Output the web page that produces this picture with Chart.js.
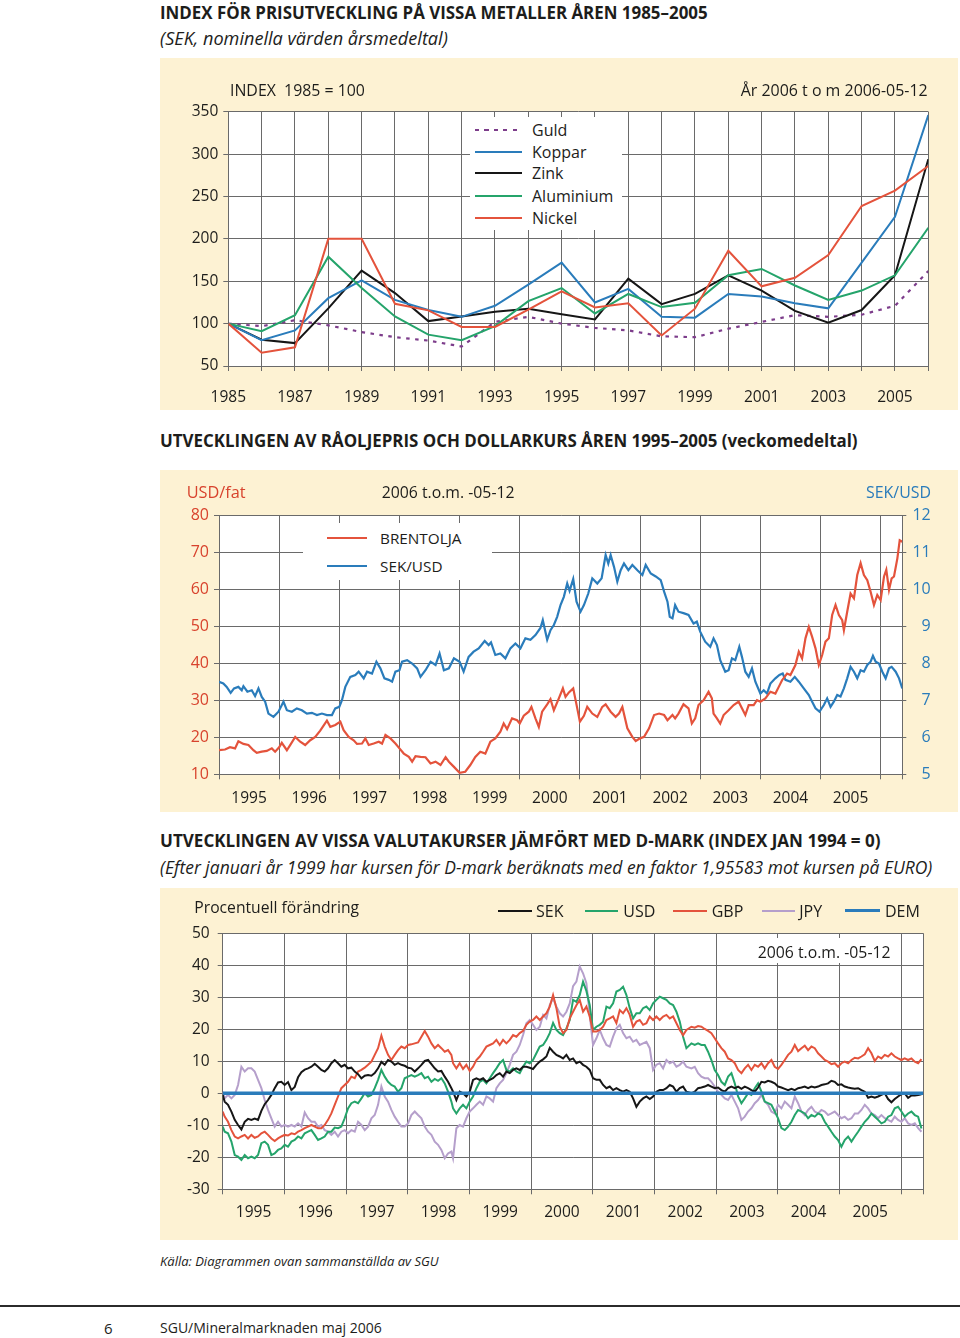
<!DOCTYPE html>
<html lang="sv">
<head>
<meta charset="utf-8">
<title>SGU Mineralmarknaden</title>
<script src="https://cdn.jsdelivr.net/npm/chart.js@4.4.1/dist/chart.umd.min.js"></script>
<style>
html,body{margin:0;padding:0;background:#fff}
body{position:relative;width:960px;height:1338px;overflow:hidden;font-family:"Open Sans",Lato,sans-serif;color:#1d1d1b}
.t{position:absolute;white-space:pre;line-height:24px;height:24px;font-size:16px;z-index:10}
.panel{position:absolute;left:160px;width:798px;background:#FDF2D3}
.panel canvas{position:absolute;left:0;top:0}
.box{position:absolute;background:#fff;z-index:5}
.ln{position:absolute;z-index:8}
</style>
</head>
<body>
<div class="panel" style="top:58px;height:352px"><canvas id="c1" width="798" height="352"></canvas></div>
<div class="panel" style="top:470px;height:342px"><canvas id="c2" width="798" height="342"></canvas></div>
<div class="panel" style="top:888px;height:352px"><canvas id="c3" width="798" height="352"></canvas></div>
<div class="box" style="left:470px;top:117px;width:152px;height:113px"></div>
<div class="box" style="left:303px;top:523px;width:189px;height:57px"></div>
<div class="box" style="left:750px;top:938px;width:146px;height:25px"></div>
<div class="ln" style="left:0;top:1305px;width:960px;height:2px;background:#2b2b2b"></div>
<script>
// ---------- Chart 1: metal price index (yearly) ----------
const metalYears = [1985,1986,1987,1988,1989,1990,1991,1992,1993,1994,1995,1996,1997,1998,1999,2000,2001,2002,2003,2004,2005,2006];
const metalTicks = [50,100,150,200,250,300,350];
const guld      = [100,97,104,98,90,84,80,73,102,108,100,95,92,85,84,94,102,110,108,110.5,121,162];
const koppar    = [100,80.5,92,130,151,128,116,108,121,146,172,125,141,108,107,135,132,124,118,172,226,346];
const zink      = [100,81,77,118,162.5,136,103,108.5,114,117.5,111,105,153,123,135,157,139,115,101,116,157,294];
const aluminium = [100,91,110,179,142,108.5,87,80.5,97,126.5,142,112,135,119.5,124.6,157,164.5,145,128,139,157,213];
const nickel    = [100,65.6,72,200,200,123.4,115.6,96,96,116.4,138,119,124,86,117.6,186,144,154,181,238.7,257,286];

// ---------- Chart 2: Brent oil (USD/fat) and SEK/USD, weekly ----------
const END = 2006.36; // 2006-05-12
const yearLabels = [1995,1996,1997,1998,1999,2000,2001,2002,2003,2004,2005];
const gridYears = [1995,1996,1997,1998,1999,2000,2001,2002,2003,2004,2005,2006];
const brentTicks = [10,20,30,40,50,60,70,80];
const sekTicks = [5,6,7,8,9,10,11,12];
const brentYears = [1995.000,1995.100,1995.183,1995.267,1995.322,1995.406,1995.489,1995.572,1995.628,1995.711,1995.794,1995.878,1995.933,
1996.000,1996.044,1996.128,1996.183,1996.267,1996.350,1996.433,1996.517,1996.600,1996.683,1996.794,1996.850,1996.933,
1997.017,1997.072,1997.156,1997.239,1997.294,1997.378,1997.433,1997.489,1997.572,1997.656,1997.711,1997.767,1997.850,1997.933,
1998.000,1998.072,1998.156,1998.211,1998.267,1998.350,1998.433,1998.517,1998.600,1998.683,1998.767,1998.822,1998.906,1999.000,
1999.094,1999.178,1999.261,1999.344,1999.428,1999.511,1999.594,1999.678,1999.733,1999.789,1999.872,1999.956,
2000.000,2000.067,2000.150,2000.194,2000.261,2000.317,2000.372,2000.456,2000.511,2000.567,2000.650,2000.717,2000.761,2000.817,2000.889,2000.956,
2001.000,2001.067,2001.122,2001.206,2001.289,2001.372,2001.428,2001.511,2001.594,2001.650,2001.706,2001.789,2001.872,2001.928,
2002.000,2002.067,2002.150,2002.233,2002.317,2002.400,2002.456,2002.539,
2002.583,2002.639,2002.722,2002.806,2002.861,2002.917,2002.972,
2003.056,2003.139,2003.194,2003.222,2003.278,2003.333,2003.389,2003.472,2003.556,2003.639,2003.694,2003.750,2003.806,2003.889,2003.944,
2004.000,2004.083,2004.167,2004.250,2004.306,2004.361,2004.444,2004.500,2004.583,2004.639,2004.694,2004.750,2004.806,2004.861,2004.917,2004.972,
2005.028,2005.083,2005.139,2005.194,2005.250,2005.306,2005.361,2005.389,2005.444,2005.500,2005.556,2005.611,2005.667,2005.722,2005.778,2005.833,2005.889,2005.944,
2006.000,2006.056,2006.094,2006.139,2006.183,2006.222,2006.278,2006.317,2006.360];
const brentUsd = [16.5,16.7,17.3,17.0,18.9,18.2,17.9,16.5,15.8,16.1,16.3,17.0,16.1,
17.3,18.5,16.5,17.9,20.1,18.8,17.9,19.2,20.1,21.8,24.5,22.8,23.3,
24.2,21.9,20.1,19.2,18.2,18.3,19.7,17.9,18.3,18.8,18.3,20.6,19.7,18.3,
17.0,15.6,14.7,13.4,14.9,14.7,14.6,12.9,13.4,12.5,14.6,13.4,12.0,10.4,
10.7,12.5,14.7,16.1,15.6,18.8,19.7,21.5,23.7,22.2,25.1,24.6,
23.7,25.8,26.9,28.2,25.1,22.8,26.9,28.9,30.3,27.3,30.5,33.2,30.9,32.1,33.2,27.8,
24.2,25.8,28.2,26.4,25.5,28.2,28.9,26.9,25.5,26.4,28.2,22.4,20.1,19.0,
19.7,20.1,22.4,26.0,26.4,26.0,24.6,26.0,
25.1,26.4,28.9,27.8,23.7,25.1,28.7,
30.0,32.3,30.5,26.4,25.1,23.7,26.0,27.3,28.7,29.6,27.8,26.0,28.7,28.7,30.0,
29.6,30.5,32.3,31.8,33.6,35.4,37.2,36.8,39.5,43.1,41.3,46.7,49.8,47.1,44.0,39.5,
42.2,45.8,46.7,53.0,55.7,53.0,51.6,48.9,53.9,58.8,57.5,63.8,67.0,63.8,62.4,59.3,55.7,58.4,
57.0,63.4,65.2,59.8,62.9,63.4,68.3,73.2,72.8];
const sekUsdYears = [1995.000,1995.072,1995.128,1995.194,1995.250,1995.322,1995.378,1995.406,1995.472,1995.544,1995.600,1995.656,1995.711,1995.767,1995.822,1995.906,1995.989,
1996.072,1996.128,1996.211,1996.294,1996.378,1996.461,1996.544,1996.628,1996.711,1996.794,1996.878,1996.933,
1997.000,1997.044,1997.100,1997.183,1997.267,1997.322,1997.406,1997.461,1997.544,1997.617,1997.683,1997.750,1997.822,1997.878,1997.933,
1998.000,1998.044,1998.128,1998.211,1998.294,1998.350,1998.433,1998.517,1998.600,1998.667,1998.739,1998.822,1998.906,1999.000,
1999.067,1999.150,1999.233,1999.317,1999.417,1999.483,1999.522,1999.594,1999.678,1999.761,1999.844,1999.928,
2000.011,2000.094,2000.178,2000.261,2000.344,2000.383,2000.456,2000.511,2000.567,2000.622,2000.678,2000.733,2000.789,2000.828,2000.889,2000.944,
2001.011,2001.067,2001.139,2001.206,2001.289,2001.361,2001.428,2001.472,2001.511,2001.567,2001.622,2001.678,2001.733,2001.806,2001.872,2001.956,
2002.039,2002.094,2002.178,2002.261,2002.344,2002.400,2002.456,2002.494,2002.539,
2002.583,2002.639,2002.722,2002.806,2002.889,2002.944,
2003.000,2003.083,2003.167,2003.222,2003.278,2003.333,2003.417,2003.472,2003.528,2003.583,2003.650,2003.694,2003.750,2003.806,2003.861,2003.917,
2004.000,2004.056,2004.111,2004.167,2004.250,2004.317,2004.372,2004.417,2004.500,2004.572,2004.639,2004.722,2004.806,2004.861,2004.917,2004.983,
2005.056,2005.111,2005.167,2005.222,2005.278,2005.333,2005.389,2005.444,2005.500,2005.556,2005.611,2005.667,2005.722,2005.778,2005.833,2005.872,2005.917,2005.972,
2006.028,2006.083,2006.139,2006.183,2006.250,2006.306,2006.360];
const sekUsd = [7.50,7.45,7.36,7.20,7.32,7.36,7.27,7.38,7.23,7.27,7.11,7.32,7.09,6.96,6.64,6.55,6.69,
6.96,6.73,6.69,6.78,6.73,6.64,6.66,6.60,6.64,6.60,6.60,6.78,
6.82,7.00,7.36,7.63,7.68,7.77,7.59,7.77,7.72,8.04,7.86,7.59,7.55,7.50,7.77,
7.81,8.04,8.08,7.99,7.86,7.63,7.81,8.04,7.95,8.26,7.81,7.86,8.13,8.04,
7.77,8.17,8.31,8.40,8.60,8.49,8.56,8.22,8.26,8.13,8.40,8.53,
8.40,8.67,8.63,8.76,8.95,9.16,8.63,8.89,9.03,9.25,9.57,9.79,10.15,9.95,10.27,9.66,
9.39,9.57,9.88,10.29,10.15,10.29,10.92,10.69,10.92,10.60,10.20,10.51,10.69,10.51,10.65,10.51,
10.38,10.65,10.42,10.34,10.24,9.93,9.66,9.25,9.21,
9.57,9.39,9.35,9.30,9.07,9.12,
8.85,8.58,8.44,8.67,8.49,8.08,7.77,7.81,8.13,8.08,8.44,8.17,7.77,7.63,7.86,7.50,
7.18,7.27,7.18,7.45,7.59,7.68,7.72,7.55,7.50,7.63,7.50,7.32,7.14,6.96,6.78,6.69,
6.87,7.05,6.82,6.96,7.14,7.10,7.32,7.59,7.90,7.77,7.59,7.81,7.77,7.95,8.04,8.20,8.04,7.99,
7.77,7.59,7.86,7.90,7.77,7.59,7.32];

// ---------- Chart 3: currencies vs D-mark (index jan 1994 = 0) ----------
const pctTicks = [-30,-20,-10,0,10,20,30,40,50];
const fxYears = [1995.000,1995.032,1995.086,1995.141,1995.195,1995.249,1995.303,1995.357,1995.411,1995.465,
1995.519,1995.573,1995.627,1995.681,1995.735,1995.789,1995.843,1995.897,1995.951,1996.005,
1996.059,1996.114,1996.168,1996.222,1996.276,1996.330,1996.384,1996.438,1996.492,1996.546,
1996.600,1996.654,1996.708,1996.762,1996.816,1996.870,1996.924,1996.978,1997.032,1997.086,
1997.141,1997.195,1997.249,1997.303,1997.357,1997.411,1997.465,1997.519,1997.573,1997.627,
1997.681,1997.735,1997.789,1997.843,1997.897,1997.951,1998.005,1998.059,1998.114,1998.168,
1998.222,1998.276,1998.330,1998.384,1998.438,1998.492,1998.546,1998.600,1998.654,1998.708,
1998.735,1998.789,1998.843,1998.897,1998.951,1999.005,1999.059,1999.114,1999.168,1999.222,
1999.276,1999.330,1999.384,1999.438,1999.492,1999.546,1999.600,1999.654,1999.708,1999.762,
1999.816,1999.870,1999.924,1999.978,2000.032,2000.086,2000.141,2000.195,2000.249,2000.303,
2000.357,2000.411,2000.465,2000.519,2000.573,2000.627,2000.681,2000.735,2000.789,2000.843,
2000.897,2000.951,2001.005,2001.059,2001.114,2001.168,2001.222,2001.276,2001.330,2001.384,
2001.438,2001.492,2001.546,2001.600,2001.654,2001.708,2001.762,2001.816,2001.870,2001.924,
2001.978,2002.032,2002.086,2002.141,2002.195,2002.249,2002.303,2002.357,2002.411,2002.465,
2002.519,
2002.600,2002.654,2002.708,2002.762,2002.816,2002.870,2002.924,2002.978,2003.032,2003.086,
2003.141,2003.195,2003.249,2003.303,2003.357,2003.411,2003.465,2003.519,2003.573,2003.627,
2003.681,2003.735,2003.789,2003.843,2003.897,2003.951,2004.005,2004.059,2004.114,2004.168,
2004.222,2004.276,2004.330,2004.384,2004.438,2004.492,2004.546,2004.600,2004.654,2004.708,
2004.762,2004.816,2004.870,2004.924,2004.978,2005.032,2005.086,2005.141,2005.195,2005.249,
2005.303,2005.357,2005.411,2005.465,2005.519,2005.573,2005.627,2005.681,2005.735,2005.789,
2005.843,2005.897,2005.951,2006.005,2006.059,2006.114,2006.168,2006.222,2006.276,2006.330];
const fxSEK = [-0.5,-2.6,-3.6,-5.7,-8.3,-9.9,-11.3,-8.9,-8.0,-8.3,
-7.9,-8.3,-5.5,-3.4,-2.1,-0.5,1.6,3.4,3.6,2.6,
3.5,1.0,2.0,5.0,6.6,7.4,7.8,8.3,9.2,8.3,
7.3,6.8,7.8,9.4,10.4,9.4,8.3,8.9,7.8,8.0,
6.8,6.0,4.7,5.5,5.7,5.5,6.3,7.8,9.8,8.9,
10.4,9.9,8.9,9.4,8.9,8.6,8.0,7.8,6.8,7.8,
8.9,10.1,10.4,9.1,7.8,6.8,7.0,5.2,3.6,1.6,
0.5,-2.1,0.5,0.0,-1.0,0.5,4.2,4.7,4.2,4.7,
3.6,4.2,4.7,5.7,6.3,5.2,6.8,6.3,7.3,7.8,
7.3,8.3,8.3,8.0,7.6,8.9,9.9,10.6,11.5,14.2,
13.0,12.0,11.5,10.9,12.0,10.4,10.9,9.4,9.9,8.9,
8.3,7.3,4.7,4.2,4.2,2.6,1.6,2.1,1.0,1.6,
1.0,0.5,1.0,0.5,-1.6,-4.2,-2.6,-1.6,-1.0,-1.8,
-1.0,0.5,1.0,1.0,1.6,2.6,2.1,0.5,1.6,2.1,
0.5,
0.0,0.5,1.6,1.8,2.1,2.6,2.1,1.6,1.8,1.0,
0.5,1.6,2.1,1.6,2.1,1.4,2.1,1.6,1.0,0.5,
1.8,3.6,3.4,3.9,3.6,3.1,2.1,1.8,1.4,1.0,
1.4,1.0,1.6,1.8,2.1,1.6,2.1,1.8,2.1,2.6,
2.8,3.1,3.9,3.6,2.6,2.8,2.1,1.8,1.6,1.4,
1.6,1.0,0.5,-1.4,-1.0,-1.4,-1.0,-0.5,0.0,-1.8,
-2.8,-1.8,-1.0,-0.3,0.0,-1.4,-0.7,-0.7,-0.5,-0.3];
const fxUSD = [-10.4,-12.0,-12.5,-15.1,-19.3,-19.8,-20.8,-19.3,-20.3,-19.8,
-20.3,-19.3,-15.6,-15.1,-16.1,-19.3,-18.8,-17.7,-17.2,-16.1,
-16.7,-15.1,-14.6,-13.5,-14.1,-12.5,-12.0,-11.5,-13.0,-14.6,
-14.1,-13.5,-12.0,-12.0,-10.7,-10.9,-10.4,-7.8,-4.7,-3.1,
-2.6,-3.1,-1.6,0.0,-1.0,-0.5,1.6,4.2,7.3,5.2,
3.6,2.6,2.1,0.5,1.6,4.7,5.2,5.7,5.2,5.7,
6.3,4.7,5.2,3.6,4.5,3.9,4.7,3.1,0.5,-2.6,
-4.7,-6.3,-4.7,-3.6,-4.7,-2.6,-1.0,1.6,3.6,4.2,
3.1,4.7,6.3,7.8,9.4,10.4,7.3,6.8,7.8,6.8,
6.3,8.3,9.9,9.4,10.4,12.5,14.6,15.1,16.7,18.8,
22.0,19.8,18.8,18.2,20.3,22.9,29.2,28.6,30.7,34.9,
32.0,27.6,19.8,20.8,21.4,22.4,27.1,26.6,28.1,31.8,
32.3,33.3,30.7,26.6,23.4,25.0,25.0,26.6,27.1,26.0,
28.1,29.2,30.2,29.7,29.2,28.1,27.6,25.5,22.4,17.7,
14.1,
15.6,15.1,15.6,15.1,15.1,13.0,10.4,7.3,5.7,3.6,
2.6,5.2,6.3,3.1,-1.0,-3.1,-1.6,0.0,-0.5,1.6,
3.1,0.5,-2.6,-3.1,-3.6,-5.7,-7.8,-10.9,-11.5,-10.4,
-8.9,-6.8,-5.2,-5.7,-6.3,-7.8,-6.8,-7.3,-6.3,-6.8,
-8.9,-10.4,-12.0,-13.5,-14.6,-16.7,-14.6,-13.5,-15.1,-13.5,
-12.0,-10.4,-8.9,-7.8,-6.3,-7.3,-8.3,-9.4,-8.9,-7.3,
-6.8,-4.7,-4.2,-5.7,-7.3,-6.3,-5.7,-6.8,-7.3,-11.0];
const fxGBP = [-5.7,-7.3,-8.9,-11.5,-13.5,-14.1,-13.5,-13.0,-14.1,-13.0,
-13.9,-13.5,-12.5,-12.0,-13.0,-14.1,-14.9,-14.1,-13.5,-13.0,
-13.2,-12.5,-12.8,-12.0,-11.5,-10.9,-10.4,-9.9,-10.4,-10.9,
-10.9,-9.9,-8.3,-6.3,-3.6,-1.0,1.6,2.6,3.6,5.2,
4.7,6.8,7.3,8.0,8.9,9.9,12.0,14.1,18.0,14.6,
12.0,10.4,12.0,13.5,14.6,14.1,15.1,15.3,15.6,15.9,
17.7,19.5,17.7,15.6,14.1,15.1,14.1,13.0,13.5,12.0,
9.4,7.8,9.4,7.6,8.9,7.0,8.3,10.4,11.5,13.0,
14.6,15.1,15.6,16.7,15.1,16.7,15.6,16.7,18.2,17.7,
18.8,19.5,21.4,22.4,22.9,24.0,22.9,24.0,25.0,27.1,
30.7,26.6,20.8,18.8,19.8,23.4,25.5,27.5,29.2,25.5,
27.1,24.0,19.3,19.3,19.8,20.8,22.9,23.4,24.0,21.9,
26.0,25.0,26.6,24.5,20.8,22.4,22.9,21.4,21.9,24.0,
22.9,24.0,22.9,24.0,24.5,23.4,24.0,21.9,19.8,18.2,
19.8,
20.8,20.5,21.0,20.8,20.1,19.5,18.8,17.2,15.6,14.1,
13.0,10.9,10.4,9.4,7.3,6.3,7.8,8.9,7.3,8.9,
8.3,9.4,7.8,9.4,10.4,8.3,7.6,8.9,10.4,12.0,
13.0,15.1,13.2,14.1,14.9,13.5,14.6,14.1,12.5,11.5,
10.4,9.9,9.1,9.4,8.3,9.4,9.9,9.4,10.4,11.1,
10.9,11.5,12.2,14.1,12.5,10.1,11.5,10.9,12.0,11.5,
12.5,11.5,10.9,10.4,10.9,10.4,10.9,9.9,9.4,10.7];
const fxJPY = [0.5,-1.6,-0.5,-1.6,-0.5,2.6,8.3,6.8,7.8,7.8,
6.8,4.2,1.6,-2.1,-5.2,-7.8,-10.4,-8.9,-10.4,-9.9,
-10.4,-9.9,-10.4,-9.4,-10.4,-6.0,-7.8,-8.9,-8.9,-10.4,
-9.9,-11.5,-12.0,-13.0,-12.0,-13.5,-12.0,-11.5,-12.5,-11.5,
-12.0,-8.9,-9.9,-11.5,-10.4,-7.8,-6.8,-3.6,2.1,-1.0,
-2.6,-5.2,-7.3,-8.9,-10.4,-10.4,-9.4,-6.8,-5.7,-6.8,
-7.8,-10.4,-12.0,-13.0,-15.1,-16.1,-17.7,-20.3,-18.8,-18.2,
-20.3,-10.9,-9.9,-10.4,-7.8,-5.7,-4.7,-3.6,-2.6,-3.6,
-1.0,-1.6,-2.6,1.6,3.1,4.2,6.3,8.9,12.0,13.0,
15.1,18.2,21.9,22.9,21.4,19.8,20.8,24.5,23.4,27.6,
29.7,27.1,25.0,24.0,25.5,28.1,33.5,34.9,39.6,37.5,
34.4,24.5,15.1,17.2,19.8,17.2,15.1,14.6,17.7,20.3,
21.4,18.8,17.2,17.7,16.1,16.7,15.1,15.6,16.1,14.1,
7.3,8.9,9.4,7.8,10.4,9.4,9.9,8.3,8.9,9.9,
8.3,
7.8,8.3,6.3,5.2,4.7,4.7,3.6,2.1,0.5,-0.5,
-1.6,-2.1,-0.5,-2.6,-4.7,-8.3,-7.3,-5.7,-4.7,-3.1,
-2.1,-0.5,-2.6,-3.6,-5.7,-6.3,-3.6,-4.7,-2.6,-3.6,
-4.7,-1.0,-3.1,-5.7,-6.8,-5.2,-4.2,-5.7,-6.3,-5.2,
-5.7,-6.8,-6.3,-5.7,-6.8,-7.8,-7.3,-8.3,-7.8,-6.3,
-6.3,-5.2,-3.6,-4.7,-6.3,-6.8,-7.8,-6.8,-7.8,-8.3,
-8.9,-7.3,-8.3,-8.9,-7.8,-9.4,-9.9,-9.4,-10.9,-12.0];
const demYears = [1995, END];
const fxDEM = [0, 0];

// ---------- styles ----------
const RED = '#E4533C', BLUE = '#2A7CBB', GREEN = '#25A46B', BLACK = '#161616', PURPLE = '#7D3D8B', LILAC = '#B59FCB';
const AXRED = '#D8432D';
const GRID = '#6a6a6a';
const TXT = '#1d1d1b';
Chart.defaults.font.family = "'Open Sans', Lato, sans-serif";
Chart.defaults.color = TXT;

const plotBg = {id:'plotBg', beforeDraw(c){const a=c.chartArea, x=c.ctx; x.save(); x.fillStyle='#fff'; x.fillRect(a.left,a.top,a.right-a.left,a.bottom-a.top); x.restore();}};
const toXY = (xs, ys) => xs.map((v,i)=>({x:v, y:ys[i]}));
const ds = (label, xs, ys, color, w, extra) => Object.assign({label, data:toXY(xs,ys), borderColor:color, backgroundColor:color, borderWidth:w, pointRadius:0, pointHoverRadius:0, tension:0, fill:false}, extra||{});
const isHalf = v => Math.abs(v - Math.floor(v) - 0.5) < 1e-6;
const timeTicks = () => gridYears.map(v=>({value:v})).concat(yearLabels.map(v=>({value:v+0.5}))).concat([{value:END}]).sort((a,b)=>a.value-b.value);
const gridCol = c => (c.tick && isHalf(c.tick.value)) ? 'rgba(0,0,0,0)' : GRID;
const baseOpts = {responsive:false, animation:false, events:[], plugins:{legend:{display:false}, tooltip:{enabled:false}}};

// Chart 1
new Chart(document.getElementById('c1'), {
  type:'line',
  data:{datasets:[
    ds('Nickel', metalYears, nickel, RED, 2),
    ds('Aluminium', metalYears, aluminium, GREEN, 2),
    ds('Koppar', metalYears, koppar, BLUE, 2),
    ds('Zink', metalYears, zink, BLACK, 2),
    ds('Guld', metalYears, guld, PURPLE, 2.2, {borderDash:[3.5,5.5]})
  ]},
  options:Object.assign({}, baseOpts, {
    layout:{padding:{left:0, right:29.7, top:53.7, bottom:0}},
    scales:{
      x:{type:'linear', min:1985, max:2006,
        afterBuildTicks:s=>{s.ticks = metalYears.map(v=>({value:v}));},
        afterFit:s=>{s.height=44;},
        grid:{color:GRID, lineWidth:1, tickLength:5},
        border:{color:GRID, width:1},
        ticks:{autoSkip:false, maxRotation:0, minRotation:0, padding:17, font:{size:15.5}, color:TXT,
          callback:v => (v%2===1 && v<=2005) ? String(v) : ''}},
      y:{type:'linear', min:50, max:350,
        afterBuildTicks:s=>{s.ticks = metalTicks.map(v=>({value:v}));},
        afterFit:s=>{s.width=68.3;},
        grid:{color:GRID, lineWidth:1, tickLength:5},
        border:{color:GRID, width:1},
        ticks:{padding:5, font:{size:15.5}, color:TXT}}
    }
  }),
  plugins:[plotBg]
});

// Chart 2
new Chart(document.getElementById('c2'), {
  type:'line',
  data:{datasets:[
    ds('BRENTOLJA', brentYears, brentUsd, RED, 2.2, {yAxisID:'y'}),
    ds('SEK/USD', sekUsdYears, sekUsd, BLUE, 2.2, {yAxisID:'y2'})
  ]},
  options:Object.assign({}, baseOpts, {
    layout:{padding:{left:0, right:27.3, top:45, bottom:0}},
    scales:{
      x:{type:'linear', min:1995, max:END,
        afterBuildTicks:s=>{s.ticks = timeTicks();},
        afterFit:s=>{s.height=37.7;},
        grid:{color:gridCol, lineWidth:1, tickLength:5},
        border:{color:GRID, width:1},
        ticks:{autoSkip:false, maxRotation:0, minRotation:0, padding:10, font:{size:15.5}, color:TXT,
          callback:v => isHalf(v) ? String(Math.floor(v)) : ''}},
      y:{type:'linear', position:'left', min:10, max:80,
        afterBuildTicks:s=>{s.ticks = brentTicks.map(v=>({value:v}));},
        afterFit:s=>{s.width=59;},
        grid:{color:GRID, lineWidth:1, tickLength:5},
        border:{color:GRID, width:1},
        ticks:{padding:5, font:{size:16}, color:AXRED}},
      y2:{type:'linear', position:'right', min:5, max:12,
        afterBuildTicks:s=>{s.ticks = sekTicks.map(v=>({value:v}));},
        afterFit:s=>{s.width=28.4;},
        grid:{drawOnChartArea:false, color:GRID, lineWidth:1, tickLength:4},
        border:{color:GRID, width:1},
        ticks:{crossAlign:'far', padding:6, font:{size:16}, color:BLUE}}
    }
  }),
  plugins:[plotBg]
});

// Chart 3
new Chart(document.getElementById('c3'), {
  type:'line',
  data:{datasets:[
    ds('DEM', demYears, fxDEM, BLUE, 3.5),
    ds('SEK', fxYears, fxSEK, BLACK, 2),
    ds('GBP', fxYears, fxGBP, RED, 2),
    ds('USD', fxYears, fxUSD, GREEN, 2),
    ds('JPY', fxYears, fxJPY, LILAC, 2)
  ]},
  options:Object.assign({}, baseOpts, {
    layout:{padding:{left:0, right:34.7, top:45.3, bottom:0}},
    scales:{
      x:{type:'linear', min:1995, max:END,
        afterBuildTicks:s=>{s.ticks = timeTicks();},
        afterFit:s=>{s.height=50.7;},
        grid:{color:gridCol, lineWidth:1, tickLength:5},
        border:{color:GRID, width:1},
        ticks:{autoSkip:false, maxRotation:0, minRotation:0, padding:9, font:{size:15.5}, color:TXT,
          callback:v => isHalf(v) ? String(Math.floor(v)) : ''}},
      y:{type:'linear', min:-30, max:50,
        afterBuildTicks:s=>{s.ticks = pctTicks.map(v=>({value:v}));},
        afterFit:s=>{s.width=62.7;},
        grid:{color:GRID, lineWidth:1, tickLength:5},
        border:{color:GRID, width:1},
        ticks:{padding:8, font:{size:15.5}, color:TXT}}
    }
  }),
  plugins:[plotBg]
});

// ---------- texts and legend samples ----------
const texts = [
  {s:'INDEX FÖR PRISUTVECKLING PÅ VISSA METALLER ÅREN 1985–2005', x:160, y:13, w:548, f:17, b:1},
  {s:'(SEK, nominella värden årsmedeltal)', x:160, y:38, w:288, f:17, i:1},
  {s:'INDEX  1985 = 100', x:230, y:90, w:135, f:16},
  {s:'År 2006 t o m 2006-05-12', x:927.7, y:90, w:187, f:16, r:1},
  {s:'Guld', x:532, y:130, f:16},
  {s:'Koppar', x:532, y:151.7, f:16},
  {s:'Zink', x:532, y:173.3, f:16},
  {s:'Aluminium', x:532, y:196, f:16},
  {s:'Nickel', x:532, y:218.3, f:16},
  {s:'UTVECKLINGEN AV RÅOLJEPRIS OCH DOLLARKURS ÅREN 1995–2005 (veckomedeltal)', x:160, y:441, w:698, f:17, b:1},
  {s:'USD/fat', x:186.7, y:491.7, w:59, f:16, c:AXRED},
  {s:'2006 t.o.m. -05-12', x:381.7, y:491.7, w:133, f:16},
  {s:'SEK/USD', x:931, y:491.7, w:65, f:16, c:BLUE, r:1},
  {s:'BRENTOLJA', x:380, y:538.3, f:15.3},
  {s:'SEK/USD', x:380, y:565.7, f:15.3},
  {s:'UTVECKLINGEN AV VISSA VALUTAKURSER JÄMFÖRT MED D-MARK (INDEX JAN 1994 = 0)', x:160, y:841, w:721, f:17, b:1},
  {s:'(Efter januari år 1999 har kursen för D-mark beräknats med en faktor 1,95583 mot kursen på EURO)', x:160, y:867, w:773, f:17, i:1},
  {s:'Procentuell förändring', x:194.3, y:906.7, w:165, f:16},
  {s:'SEK', x:536, y:910.7, f:16},
  {s:'USD', x:623.3, y:910.7, f:16},
  {s:'GBP', x:711.7, y:910.7, f:16},
  {s:'JPY', x:799.3, y:910.7, f:16},
  {s:'DEM', x:885, y:910.7, f:16},
  {s:'2006 t.o.m. -05-12', x:757.7, y:951.7, w:133, f:16},
  {s:'Källa: Diagrammen ovan sammanställda av SGU', x:160, y:1261, w:279, f:13, i:1},
  {s:'6', x:104, y:1328, f:15},
  {s:'SGU/Mineralmarknaden maj 2006', x:160, y:1328, w:222, f:15}
];
for (const o of texts){
  const d = document.createElement('div');
  d.className = 't';
  d.textContent = o.s;
  d.style.fontSize = o.f + 'px';
  if (o.b) d.style.fontWeight = '700';
  if (o.i) d.style.fontStyle = 'italic';
  if (o.c) d.style.color = o.c;
  d.style.left = '0px'; d.style.top = '0px';
  document.body.appendChild(d);
  let w = d.getBoundingClientRect().width;
  if (o.w) { d.style.fontSize = (o.f * o.w / w) + 'px'; w = d.getBoundingClientRect().width; }
  d.style.left = (o.r ? o.x - w : o.x) + 'px';
  d.style.top = (o.y - 12) + 'px';
}
const samples = [
  {x1:475, x2:522, y:130, c:PURPLE, h:2.2, dash:1},
  {x1:475, x2:522, y:151.7, c:BLUE, h:2},
  {x1:475, x2:522, y:173.3, c:BLACK, h:2},
  {x1:475, x2:522, y:196, c:GREEN, h:2},
  {x1:475, x2:522, y:218.3, c:RED, h:2},
  {x1:327, x2:367, y:538.3, c:RED, h:2},
  {x1:327, x2:367, y:565.7, c:BLUE, h:2},
  {x1:498, x2:532, y:910.7, c:BLACK, h:2},
  {x1:585, x2:618, y:910.7, c:GREEN, h:2},
  {x1:673, x2:707, y:910.7, c:RED, h:2},
  {x1:762, x2:795, y:910.7, c:LILAC, h:2},
  {x1:845, x2:880, y:910.7, c:BLUE, h:3.5}
];
for (const s of samples){
  const d = document.createElement('div');
  d.className = 'ln';
  d.style.left = s.x1 + 'px';
  d.style.width = (s.x2 - s.x1) + 'px';
  d.style.top = (s.y - s.h/2) + 'px';
  d.style.height = s.h + 'px';
  d.style.background = s.dash ? `repeating-linear-gradient(90deg, ${s.c} 0 4px, rgba(0,0,0,0) 4px 9.5px)` : s.c;
  document.body.appendChild(d);
}
</script>
</body>
</html>
